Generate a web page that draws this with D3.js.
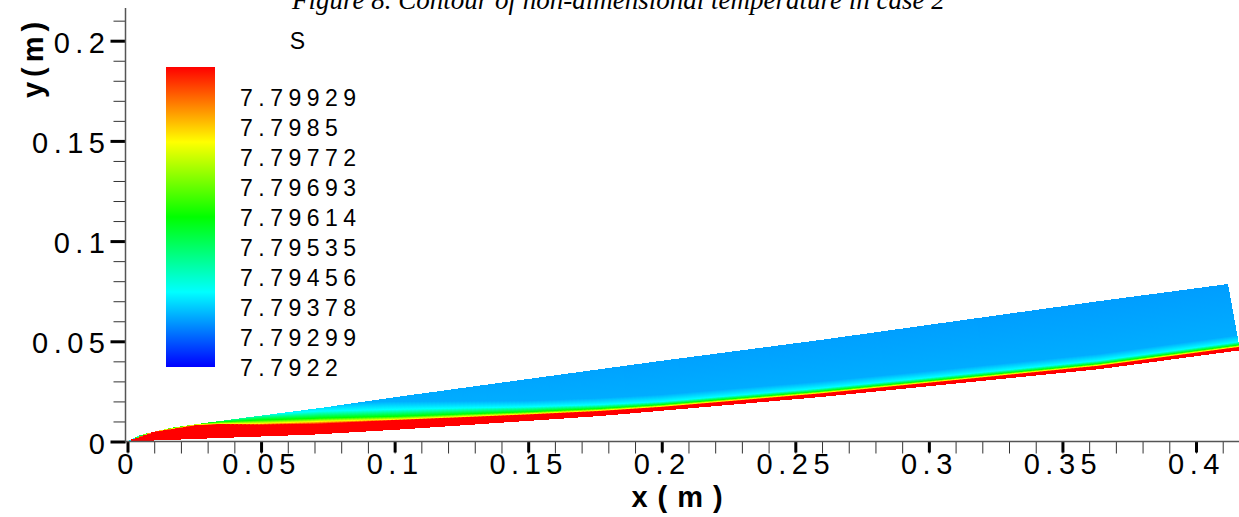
<!DOCTYPE html>
<html>
<head>
<meta charset="utf-8">
<script src="https://cdn.jsdelivr.net/npm/d3@7"></script>
<style>
  html, body { margin: 0; padding: 0; background: #fff; }
  svg { display: block; }
</style>
</head>
<body>
<div id="chart"></div>
<script>
// wall (lower edge of the domain), metres
const wallX = [0, 0.0348, 0.0703, 0.1021, 0.177, 0.2593, 0.364, 0.4165];
const wallY = [0, 0.00174, 0.00349, 0.00598, 0.01271, 0.02217, 0.03612, 0.0455];
// outer edge of the domain
const topX = [0, 0.0047, 0.0159, 0.026, 0.0459, 0.0721, 0.102, 0.1994, 0.2593, 0.3641, 0.412];
const topY = [0, 0.00324, 0.00674, 0.00873, 0.01222, 0.01671, 0.02246, 0.04017, 0.05065, 0.07011, 0.07859];

// S reached at each height above the wall (mm), read along the plate
const sLevels = [7.8012, 7.80008, 7.79811, 7.79614, 7.79417, 7.79354, 7.79342];
const stationX = [0, 0.01, 0.026, 0.035, 0.05, 0.072, 0.1, 0.15, 0.2, 0.3, 0.4165];
const hRed    = [0, 4.2, 6.7, 6.8, 5.8, 5.1, 4.7, 3.0, 1.7, 1.5, 1.5];
const hYellow = [0, 4.5, 7.1, 7.1, 6.5, 6.4, 5.2, 3.5, 2.2, 2.0, 2.0];
const hGreen  = [0, 5.0, 7.5, 8.0, 8.2, 8.0, 6.7, 4.5, 3.0, 2.7, 2.7];
const hCyan   = [0, 6.0, 8.5, 9.2, 11.0, 11.5, 10.2, 7.0, 4.5, 4.2, 4.2];
const hBlue   = [0, 7.0, 10.0, 11.0, 14.0, 15.5, 14.2, 10.0, 8.0, 7.5, 7.5];
const hFar    = [0.1, 12, 16, 18, 21, 24, 28, 30, 30, 32, 32];

// legend
const legendLabels = ['7.79929', '7.7985', '7.79772', '7.79693', '7.79614', '7.79535', '7.79456', '7.79378', '7.79299', '7.7922'];
const sMin = 7.7922, sMax = 7.80008;
const rainbow = ['#0000ff', '#00ffff', '#00ff00', '#ffff00', '#ff0000'];

// ticks
const xMajor = [0, 0.05, 0.1, 0.15, 0.2, 0.25, 0.3, 0.35, 0.4];
const xMinor = d3.range(0, 42).map(i => i / 100);
const yMajor = [0, 0.05, 0.1, 0.15, 0.2];
const yMinor = d3.range(0, 22).map(i => i / 100);

const width = 1239, height = 517;
const svg = d3.select('#chart').append('svg').attr('width', width).attr('height', height);
svg.append('rect').attr('width', width).attr('height', height).attr('fill', '#fff');

const x = d3.scaleLinear().domain([0, 0.4]).range([127.5, 1196]);
const y = d3.scaleLinear().domain([0, 0.2]).range([441.5, 40.7]);
const color = d3.scaleLinear()
  .domain(rainbow.map((c, i) => sMin + i * (sMax - sMin) / (rainbow.length - 1)))
  .range(rainbow)
  .clamp(true);

const defs = svg.append('defs');

// contour flood, one strip per column of the grid
const wallCurve = d3.scaleLinear().domain(wallX).range(wallY);
const topCurve = d3.scaleLinear().domain(topX).range(topY);
const levelScales = [hRed, hYellow, hGreen, hCyan, hBlue, hFar]
  .map(h => d3.scaleLinear().domain(stationX).range(h).clamp(true));
const wallEnd = wallX[wallX.length - 1];
const topEnd = topX[topX.length - 1];
const N = 280;

function column(s) {
  const xw = s * wallEnd, xt = s * topEnd;
  return { xw: xw, yw: wallCurve(xw), xt: xt, yt: topCurve(xt) };
}

const cells = d3.range(N).map(i => {
  // strips overlap a little so no seam shows between them
  const a = column(i / N), b = column(Math.min(i + 1.5, N) / N), m = column((i + 0.5) / N);
  const hs = [0].concat(levelScales.map(f => f(m.xw)));
  const L = (m.yt - m.yw) * 1000;
  const profile = d3.scaleLinear().domain(hs).range(sLevels).clamp(true);
  const stops = hs.filter(h => h < L).map(h => ({ o: h / L, c: color(profile(h)) }));
  stops.push({ o: 1, c: color(profile(L)) });
  return { i: i, a: a, b: b, m: m, stops: stops };
});

const grads = defs.selectAll('linearGradient.cell').data(cells).enter()
  .append('linearGradient')
  .attr('class', 'cell')
  .attr('id', d => 'cell' + d.i)
  .attr('gradientUnits', 'userSpaceOnUse')
  .attr('x1', d => x(d.m.xw)).attr('y1', d => y(d.m.yw))
  .attr('x2', d => x(d.m.xt)).attr('y2', d => y(d.m.yt));
grads.selectAll('stop').data(d => d.stops).enter().append('stop')
  .attr('offset', d => d.o)
  .attr('stop-color', d => d.c);

svg.append('g')
  .selectAll('path').data(cells)
  .enter()
  .append('path')
  .attr('d', d => {
    let temp = '';
    temp += `M${x(d.a.xw)},${y(d.a.yw)} `;
    temp += `L${x(d.b.xw)},${y(d.b.yw)} `;
    temp += `L${x(d.b.xt)},${y(d.b.yt)} `;
    temp += `L${x(d.a.xt)},${y(d.a.yt)} z`;
    return temp;
  })
  .attr('fill', d => `url(#cell${d.i})`)
  .attr('shape-rendering', 'crispEdges');

// axes
const tickFont = '"Liberation Sans", Arial, sans-serif';
const fmt = d => String(+d.toFixed(2));

const gx = svg.append('g').attr('transform', 'translate(0,441.5)');
gx.append('g')
  .call(d3.axisBottom(x).tickValues(xMinor).tickSize(12).tickFormat('').tickSizeOuter(0))
  .call(g => g.select('.domain').remove())
  .call(g => g.selectAll('line').attr('stroke', '#333').attr('stroke-width', 1));
gx.append('g')
  .call(d3.axisBottom(x).tickValues(xMajor).tickSize(11).tickFormat(fmt).tickSizeOuter(0))
  .call(g => g.select('.domain').remove())
  .call(g => g.selectAll('line').attr('stroke', '#000').attr('stroke-width', 3))
  .call(g => g.selectAll('text')
    .attr('y', 32).attr('dy', null)
    .attr('fill', '#000')
    .style('font-family', tickFont).style('font-size', '29px').style('letter-spacing', '5.5px'));
gx.append('line').attr('x1', 125).attr('x2', width).attr('y1', 0).attr('y2', 0)
  .attr('stroke', '#555').attr('stroke-width', 1.5);

const gy = svg.append('g').attr('transform', 'translate(125.5,0)');
gy.append('g')
  .call(d3.axisLeft(y).tickValues(yMinor).tickSize(12).tickFormat('').tickSizeOuter(0))
  .call(g => g.select('.domain').remove())
  .call(g => g.selectAll('line').attr('stroke', '#333').attr('stroke-width', 1));
gy.append('g')
  .call(d3.axisLeft(y).tickValues(yMajor).tickSize(15).tickFormat(fmt).tickSizeOuter(0))
  .call(g => g.select('.domain').remove())
  .call(g => g.selectAll('line').attr('stroke', '#000').attr('stroke-width', 3))
  .call(g => g.selectAll('text')
    .attr('x', -15).attr('y', 11.5).attr('dy', null)
    .attr('fill', '#000')
    .style('font-family', tickFont).style('font-size', '29px').style('letter-spacing', '5.5px'));
gy.append('line').attr('x1', 0).attr('x2', 0).attr('y1', 8).attr('y2', 442)
  .attr('stroke', '#555').attr('stroke-width', 1.5);

svg.append('text')
  .attr('x', 682).attr('y', 507)
  .attr('text-anchor', 'middle')
  .style('font-family', tickFont).style('font-weight', 'bold')
  .style('font-size', '29px').style('letter-spacing', '10px')
  .text('x(m)');

svg.append('text')
  .attr('transform', 'translate(43,57.5) rotate(-90)')
  .attr('text-anchor', 'middle')
  .style('font-family', tickFont).style('font-weight', 'bold')
  .style('font-size', '29px').style('letter-spacing', '5px')
  .text('y(m)');

// legend
const legendY = d3.scaleLinear().domain([sMin, sMax]).range([367, 67]);
const lg = defs.append('linearGradient')
  .attr('id', 'legend')
  .attr('gradientUnits', 'userSpaceOnUse')
  .attr('x1', 0).attr('x2', 0)
  .attr('y1', legendY(sMin)).attr('y2', legendY(sMax));
lg.selectAll('stop').data(color.domain()).enter().append('stop')
  .attr('offset', d => (d - sMin) / (sMax - sMin))
  .attr('stop-color', d => color(d));
svg.append('rect')
  .attr('x', 166).attr('width', 49)
  .attr('y', legendY(sMax)).attr('height', legendY(sMin) - legendY(sMax))
  .attr('fill', 'url(#legend)');

svg.append('g')
  .selectAll('text').data(legendLabels)
  .enter()
  .append('text')
  .attr('x', 240)
  .attr('y', d => legendY(+d) + 9)
  .style('font-family', tickFont).style('font-size', '23px').style('letter-spacing', '5.5px')
  .text(d => d);

svg.append('text')
  .attr('x', 297.5).attr('y', 49)
  .attr('text-anchor', 'middle')
  .style('font-family', tickFont).style('font-size', '23px')
  .text('S');

// caption of the page, cut at the top edge as in the source
svg.append('text')
  .attr('x', 292).attr('y', 9)
  .style('font-family', '"Liberation Serif", "Times New Roman", serif')
  .style('font-style', 'italic').style('font-size', '27px')
  .text('Figure 8.  Contour of non-dimensional temperature in case 2');
</script>
</body>
</html>
